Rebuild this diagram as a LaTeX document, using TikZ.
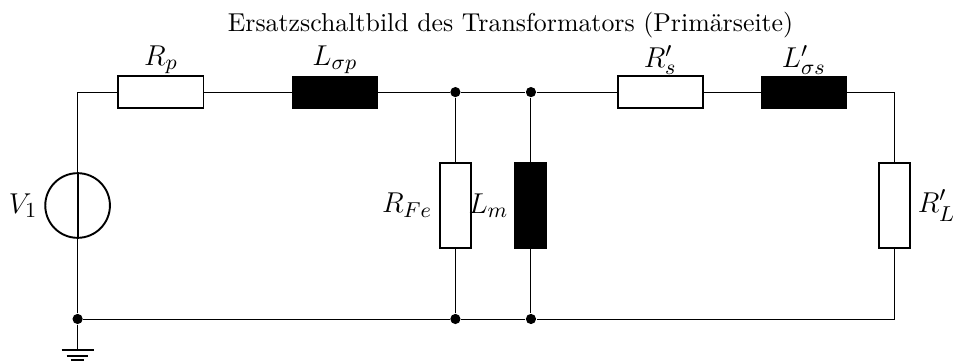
\documentclass[tikz,border=0pt]{standalone}
\usepackage{amsmath,amssymb}
\usepackage{xcolor}
\usepackage{tikz}
\usetikzlibrary{positioning,calc}

\tikzset{
    wire/.style={line width=0.4pt},
    resistor/.style={draw, line width=0.8pt, fill=white, minimum width=1.25cm, minimum height=0.46cm, inner sep=0pt},
    inductor/.style={draw, line width=0.4pt, fill=black, minimum width=1.26cm, minimum height=0.47cm, inner sep=0pt},
    junction/.style={circle, fill=black, inner sep=0pt, minimum size=0.15cm},
    source/.style={draw, circle, line width=0.8pt, inner sep=0pt, minimum size=0.95cm},
    elabel/.style={font=\fontsize{12.5}{15}\selectfont}
}

\begin{document}
\begin{tikzpicture}
    \useasboundingbox (0,0) rectangle (14,5.303);

    \node[font=\fontsize{10.8}{13}\selectfont] (title) at (7.50,4.93) {Ersatzschaltbild des Transformators (Prim\"arseite)};

    % Corners
    \coordinate (topleft) at (1.14,3.95);
    \coordinate (topright) at (13.14,3.95);
    \coordinate (botright) at (13.14,0.617);
    \coordinate (gnd) at (1.14,0.162);

    % Top row
    \node[resistor] (Rp) at (2.365,3.95) {};
    \node[inductor] (Lsp) at (4.92,3.95) {};
    \node[junction] (topa) at (6.69,3.95) {};
    \node[junction] (topb) at (7.80,3.95) {};
    \node[resistor] (Rs) at (9.70,3.95) {};
    \node[inductor] (Lss) at (11.81,3.95) {};

    % Bottom row
    \node[junction] (bota) at (6.69,0.617) {};
    \node[junction] (botb) at (7.80,0.617) {};
    \node[junction] (botleft) at (1.14,0.617) {};

    % Branches
    \node[source] (V1) at (1.14,2.284) {};
    \node[resistor, rotate=90] (RFe) at (6.69,2.284) {};
    \node[inductor, rotate=90] (Lm) at (7.80,2.284) {};
    \node[resistor, rotate=90] (RL) at (13.14,2.284) {};

    % Wires
    \draw[wire] (V1) -- (topleft) -- (Rp) -- (Lsp) -- (topa) -- (topb) -- (Rs) -- (Lss) -- (topright) -- (RL) -- (botright) -- (botb) -- (bota) -- (botleft) -- (V1);
    \draw[wire] (topa) -- (RFe);
    \draw[wire] (RFe) -- (bota);
    \draw[wire] (topb) -- (Lm);
    \draw[wire] (Lm) -- (botb);
    \draw[wire] (botleft) -- (gnd);
    \draw[line width=0.8pt] (V1.north) -- (V1.south);

    % Ground
    \draw[line width=0.8pt] ([xshift=-0.235cm]gnd) -- ([xshift=0.235cm]gnd);
    \draw[line width=0.8pt] ($(gnd)+(-0.16,-0.088)$) -- ($(gnd)+(0.16,-0.088)$);
    \draw[line width=0.8pt] ($(gnd)+(-0.1,-0.147)$) -- ($(gnd)+(0.1,-0.147)$);

    % Labels
    \node[elabel] (lRp) at (2.365,4.42) {$R_p$};
    \node[elabel] (lLsp) at (4.92,4.42) {$L_{\sigma p}$};
    \node[elabel] (lRs) at (9.70,4.42) {$R'_s$};
    \node[elabel] (lLss) at (11.81,4.42) {$L'_{\sigma s}$};
    \node[elabel] (lV1) at (0.34,2.284) {$V_1$};
    \node[elabel] (lRFe) at (5.98,2.284) {$R_{Fe}$};
    \node[elabel] (lLm) at (7.175,2.284) {$L_m$};
    \node[elabel] (lRL) at (13.76,2.284) {$R'_L$};
\end{tikzpicture}
\end{document}
